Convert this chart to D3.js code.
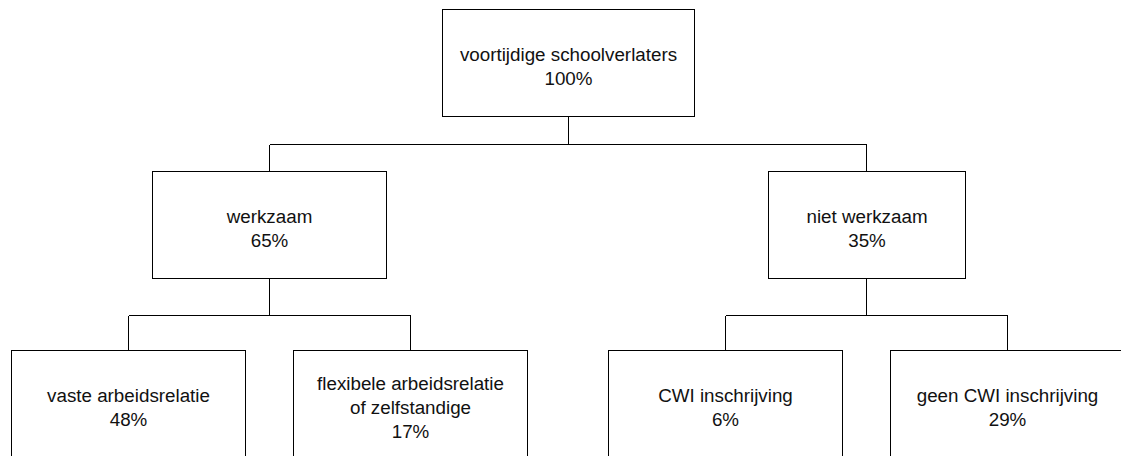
<!DOCTYPE html>
<html>
<head>
<meta charset="utf-8">
<script src="https://cdn.jsdelivr.net/npm/d3@7"></script>
<style>
  html, body { margin: 0; padding: 0; background: #fff; }
  svg { display: block; }
  .box { fill: #fff; stroke: #000; stroke-width: 1; shape-rendering: crispEdges; }
  .link { fill: none; stroke: #000; stroke-width: 1; shape-rendering: crispEdges; }
  .label { font-family: "Liberation Sans", Arial, sans-serif; font-size: 18.8px; fill: #111; }
</style>
</head>
<body>
<div id="chart"></div>
<script>
// tree data
const labels = [
  "voortijdige schoolverlaters",
  "werkzaam",
  "niet werkzaam",
  "vaste arbeidsrelatie",
  "flexibele arbeidsrelatie\nof zelfstandige",
  "CWI inschrijving",
  "geen CWI inschrijving"
];
const shares = [100, 65, 35, 48, 17, 6, 29];
const parents = [null, 0, 0, 1, 1, 2, 2];

function renderTree() {
    const width = 1121, height = 456;
    const boxH = 107;
    const lineH = 24;

    const svg = d3.select("#chart").append("svg")
        .attr("width", width).attr("height", height);

    const rows = labels.map((l, i) => ({id: String(i), parent: parents[i] === null ? null : String(parents[i]), label: l, share: shares[i]}));
    const root = d3.stratify().id(d => d.id).parentId(d => d.parent)(rows);

    // cousins a bit further apart than siblings
    d3.tree().size([1, 1]).separation((a, b) => a.parent === b.parent ? 1 : 1.12)(root);

    const leaves = root.leaves();
    const x = d3.scaleLinear().domain(d3.extent(leaves, d => d.x)).range([128, 1007]);
    const top = d3.scaleLinear().domain([0, 1, 2]).range([9.5, 171.5, 350.5]);

    const boxW = d => {
        if (d.depth === 0) return 252;
        if (d.data.label === "niet werkzaam") return 197;
        return 234;
    };

    const nodes = root.descendants();
    nodes.forEach(d => {
        d.cx = Math.round(x(d.x)) + 0.5;
        d.w = boxW(d);
        d.left = Math.round(x(d.x) - d.w / 2) + 0.5;
        d.top = top(d.depth);
        d.cy = d.top + boxH / 2;
    });

    // elbow connectors
    const linkG = svg.append("g");
    nodes.filter(d => d.children).forEach(p => {
        const kids = p.children;
        const midY = Math.round((p.top + boxH + kids[0].top) / 2) + 0.5;
        linkG.append("path").attr("class", "link")
            .attr("d", `M${p.cx},${p.top + boxH} V${midY}`);
        linkG.append("path").attr("class", "link")
            .attr("d", `M${d3.min(kids, k => k.cx)},${midY} H${d3.max(kids, k => k.cx)}`);
        kids.forEach(k => {
            linkG.append("path").attr("class", "link")
                .attr("d", `M${k.cx},${midY} V${k.top}`);
        });
    });

    const node = svg.append("g").selectAll("g").data(nodes).enter().append("g");

    node.append("rect")
        .attr("class", "box")
        .attr("x", d => d.left).attr("y", d => d.top)
        .attr("width", d => d.w).attr("height", boxH);

    node.each(function(d) {
        const lines = d.data.label.split("\n").concat([d.data.share + "%"]);
        const n = lines.length;
        const t = d3.select(this).append("text")
            .attr("class", "label")
            .attr("text-anchor", "middle");
        lines.forEach((ln, i) => {
            t.append("tspan")
                .attr("x", d.left + d.w / 2)
                .attr("y", d.cy + 9.5 + (i - (n - 1) / 2) * lineH)
                .text(ln);
        });
    });
}

renderTree();
</script>
</body>
</html>
